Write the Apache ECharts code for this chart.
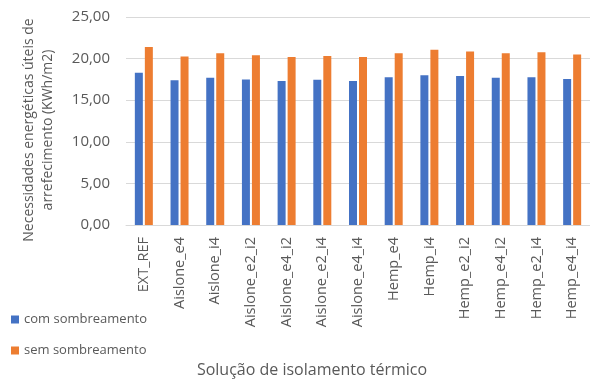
<!DOCTYPE html>
<html>
<head>
<meta charset="utf-8">
<script src="https://cdn.jsdelivr.net/npm/echarts@6/dist/echarts.min.js"></script>
<style>
  html, body { margin: 0; padding: 0; background: #fff; }
  #chart { width: 590px; height: 381px; }
</style>
</head>
<body>
<div id="chart"></div>
<script>
(function () {
    'use strict';

    var categories = [
        'EXT_REF', 'Aislone_e4', 'Aislone_i4', 'Aislone_e2_i2', 'Aislone_e4_i2',
        'Aislone_e2_i4', 'Aislone_e4_i4', 'Hemp_e4', 'Hemp_i4', 'Hemp_e2_i2',
        'Hemp_e4_i2', 'Hemp_e2_i4', 'Hemp_e4_i4'
    ];
    var comSombreamento = [18.3, 17.4, 17.7, 17.5, 17.3, 17.45, 17.3, 17.75, 18.0, 17.9, 17.7, 17.75, 17.55];
    var semSombreamento = [21.4, 20.25, 20.65, 20.4, 20.2, 20.3, 20.2, 20.65, 21.05, 20.85, 20.65, 20.75, 20.5];

    var TEXT = '#595959';
    var FONT = '"Open Sans", sans-serif';

    var chart = echarts.init(document.getElementById('chart'));

    /** Format numbers with comma decimal separator. */
    function fmt(v) {
        return v.toFixed(2).replace('.', ',');
    }

    chart.setOption({
        animation: false,
        textStyle: { fontFamily: FONT, color: TEXT },
        grid: { left: 126, right: -6, top: 17, bottom: 156, containLabel: false },
        legend: {
            orient: 'vertical',
            left: 6,
            top: 308,
            itemWidth: 8,
            itemHeight: 8,
            itemGap: 18,
            icon: 'rect',
            textStyle: { color: TEXT, fontSize: 13, fontFamily: FONT },
            data: ['com sombreamento', 'sem sombreamento']
        },
        xAxis: {
            type: 'category',
            data: categories,
            axisLine: { lineStyle: { color: '#d9d9d9' } },
            axisTick: { show: false },
            axisLabel: { rotate: 90, interval: 0, margin: 12, color: TEXT, fontSize: 14.5, fontFamily: FONT }
        },
        yAxis: {
            type: 'value',
            min: 0,
            max: 25,
            interval: 5,
            axisLine: { show: false },
            axisTick: { show: false },
            splitLine: { lineStyle: { color: '#d9d9d9' } },
            axisLabel: { formatter: fmt, margin: 16, color: TEXT, fontSize: 15, fontFamily: FONT }
        },
        graphic: [
            {
                type: 'text',
                x: 39,
                y: 130,
                rotation: Math.PI / 2,
                style: {
                    text: 'Necessidades energéticas úteis de\narrefecimento (KWh/m2)',
                    align: 'center',
                    verticalAlign: 'middle',
                    fill: TEXT,
                    font: '14px ' + FONT,
                    lineHeight: 19
                }
            },
            {
                type: 'text',
                x: 312,
                y: 370,
                style: {
                    text: 'Solução de isolamento térmico',
                    align: 'center',
                    verticalAlign: 'middle',
                    fill: TEXT,
                    font: '16px ' + FONT
                }
            }
        ],
        series: [
            {
                name: 'com sombreamento',
                type: 'bar',
                data: comSombreamento,
                barWidth: 8,
                barGap: '25%',
                itemStyle: { color: '#4472c4' }
            },
            {
                name: 'sem sombreamento',
                type: 'bar',
                data: semSombreamento,
                barWidth: 8,
                itemStyle: { color: '#ed7d31' }
            }
        ]
    });
})();
</script>
</body>
</html>
